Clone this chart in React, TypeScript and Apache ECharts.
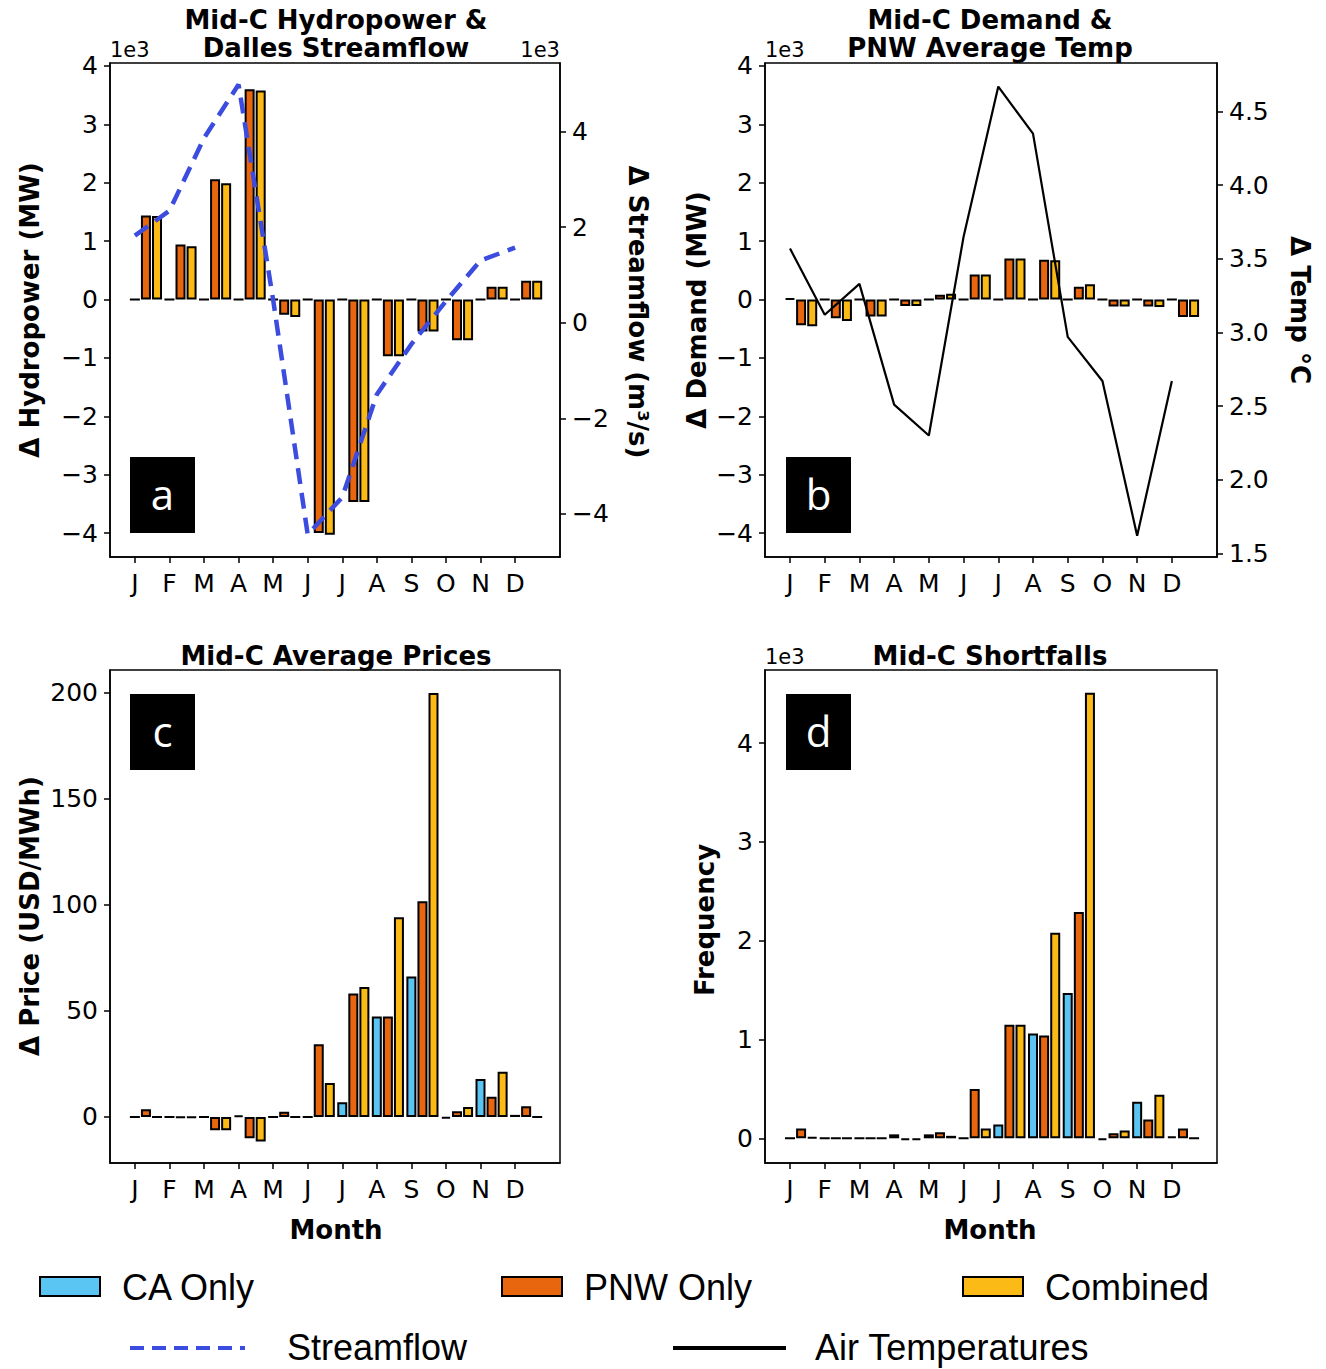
import React, { useEffect, useRef } from 'react';
import * as echarts from 'echarts';

// ---------- data ----------
const months = ['J', 'F', 'M', 'A', 'M', 'J', 'J', 'A', 'S', 'O', 'N', 'D'];

// Panel a: Δ Hydropower (x1e3 MW) and Δ Streamflow (x1e3 m3/s)
const hydroCA = [0, 0, 0, 0, 0, 0, 0, 0, 0, 0, 0, 0];
const hydroPNW = [1.44, 0.94, 2.06, 3.6, -0.26, -4.0, -3.47, -0.97, -0.55, -0.7, 0.22, 0.32];
const hydroComb = [1.43, 0.91, 1.99, 3.58, -0.3, -4.03, -3.47, -0.97, -0.55, -0.7, 0.22, 0.32];
const streamflow = [1.82, 2.34, 3.86, 4.98, 0.48, -4.43, -3.65, -1.5, -0.45, 0.45, 1.3, 1.57];

// Panel b: Δ Demand (x1e3 MW) and Δ Temp (°C)
const demandCA = [0.02, 0, 0, 0, 0, 0, 0, 0, 0, 0, 0, 0];
const demandPNW = [-0.44, -0.32, -0.29, -0.11, 0.08, 0.43, 0.7, 0.68, 0.22, -0.12, -0.12, -0.3];
const demandComb = [-0.46, -0.37, -0.29, -0.11, 0.1, 0.43, 0.7, 0.67, 0.26, -0.12, -0.13, -0.3];
const airTemp = [3.57, 3.12, 3.33, 2.51, 2.3, 3.65, 4.67, 4.35, 2.97, 2.67, 1.62, 2.67];

// Panel c: Δ Price (USD/MWh)
const priceCA = [0, 0, 0, 0.8, 0, 0, 6.9, 47.4, 66.3, -0.8, 17.9, 1.0];
const pricePNW = [3.7, -0.3, -6.2, -10, 2.5, 34.3, 58.2, 47.4, 101.8, 2.7, 9.5, 5.1];
const priceComb = [0, -0.3, -6.2, -11.6, 0, 16.0, 61.3, 94.2, 200, 4.7, 21.3, 0];

// Panel d: Shortfall frequency (x1e3)
const shortCA = [0, 0, 0, 0.04, 0.04, 0, 0.14, 1.06, 1.47, -0.02, 0.37, 0.02];
const shortPNW = [0.1, 0, 0, -0.02, 0.06, 0.5, 1.15, 1.04, 2.29, 0.05, 0.19, 0.1];
const shortComb = [0.01, 0, 0, -0.02, 0.025, 0.1, 1.15, 2.08, 4.51, 0.08, 0.44, 0];

// tick values
const hydroTicks = [-4, -3, -2, -1, 0, 1, 2, 3, 4];
const streamTicks = [-4, -2, 0, 2, 4];
const tempTicks = [1.5, 2.0, 2.5, 3.0, 3.5, 4.0, 4.5];
const priceTicks = [0, 50, 100, 150, 200];
const shortTicks = [0, 1, 2, 3, 4];

// ---------- styling ----------
const C_CA = '#5ac4f2';
const C_PNW = '#e8660e';
const C_COMB = '#fbba16';
const C_STREAM = '#3b4cdf';
const OFFSETS = [0, 0.32, 0.64];
const X_MIN = -0.72;
const X_MAX = 12.3;
const TICK_FONT = { fontFamily: 'DejaVu Sans', fontSize: 25, color: '#000' };
const BOLD = 'bold 26px "DejaVu Sans"';

const grids = [
  { left: 110, top: 63, width: 450, height: 494 },
  { left: 765, top: 63, width: 452, height: 494 },
  { left: 110, top: 670, width: 450, height: 493 },
  { left: 765, top: 670, width: 452, height: 493 },
];

const fmtMinus = (v: number, dec = 0) => {
  const s = dec ? Math.abs(v).toFixed(dec) : String(Math.abs(Math.round(v * 1000) / 1000));
  return v < 0 ? '\u2212' + s : s;
};

function xAxisFor(g: number) {
  const idx = months.map((_, i) => i);
  return {
    gridIndex: g,
    type: 'value',
    min: X_MIN,
    max: X_MAX,
    axisLine: { show: true, onZero: false, lineStyle: { color: '#000', width: 1.5 } },
    axisTick: { show: true, length: 6, customValues: idx, lineStyle: { color: '#000', width: 1.5 } },
    axisLabel: {
      show: true,
      customValues: idx,
      formatter: (v: number) => months[Math.round(v)] ?? '',
      ...TICK_FONT,
      margin: 14,
    },
    splitLine: { show: false },
  };
}

function yAxisFor(g: number, min: number, max: number, ticks: number[], pos: 'left' | 'right', dec = 0) {
  return {
    gridIndex: g,
    type: 'value',
    position: pos,
    min,
    max,
    axisLine: { show: true, onZero: false, lineStyle: { color: '#000', width: 1.5 } },
    axisTick: { show: true, length: 6, customValues: ticks, lineStyle: { color: '#000', width: 1.5 } },
    axisLabel: {
      show: true,
      customValues: ticks,
      formatter: (v: number) => fmtMinus(v, dec),
      ...TICK_FONT,
      margin: 12,
    },
    splitLine: { show: false },
  };
}

function barSeries(name: string, vals: number[], k: number, color: string, g: number, yIdx: number) {
  return {
    name,
    type: 'bar',
    xAxisIndex: g,
    yAxisIndex: yIdx,
    data: vals.map((v, i) => [i + OFFSETS[k], v]),
    barWidth: 10,
    barGap: '-100%',
    itemStyle: { color, borderColor: '#000', borderWidth: 2 },
    z: 2,
  };
}

function txt(text: string, x: number, y: number, font: string, align = 'center', rotation = 0, fill = '#000') {
  return {
    type: 'text',
    x,
    y,
    rotation,
    z: 10,
    style: { text, font, fill, textAlign: align, textVerticalAlign: 'middle' },
  };
}

function letterBox(letter: string, x: number, y: number) {
  return [
    { type: 'rect', shape: { x, y, width: 65, height: 76 }, style: { fill: '#000' }, z: 10 },
    txt(letter, x + 32.5, y + 36, '42px "Open Sans"', 'center', 0, '#fff'),
  ];
}

function legendSwatch(x: number, color: string, label: string) {
  return [
    { type: 'rect', shape: { x, y: 1277, width: 60, height: 19 }, style: { fill: color, stroke: '#000', lineWidth: 2 }, z: 10 },
    txt(label, x + 82, 1287, '36px "Liberation Sans"', 'left'),
  ];
}

export default function App() {
  const ref = useRef<HTMLDivElement>(null);
  useEffect(() => {
    if (!ref.current) return;
    const chart = echarts.init(ref.current, undefined, { renderer: 'svg' });
    const option = {
      animation: false,
      backgroundColor: '#fff',
      grid: grids.map((g) => ({ ...g, show: true, borderColor: '#000', borderWidth: 1.5, containLabel: false })),
      xAxis: [0, 1, 2, 3].map(xAxisFor),
      yAxis: [
        yAxisFor(0, -4.41, 4.05, hydroTicks, 'left'),
        yAxisFor(0, -4.9, 5.43, streamTicks, 'right'),
        yAxisFor(1, -4.41, 4.05, hydroTicks, 'left'),
        yAxisFor(1, 1.475, 4.83, tempTicks, 'right', 1),
        yAxisFor(2, -21.7, 210.8, priceTicks, 'left'),
        yAxisFor(3, -0.25, 4.74, shortTicks, 'left'),
      ],
      series: [
        barSeries('CA Only', hydroCA, 0, C_CA, 0, 0),
        barSeries('PNW Only', hydroPNW, 1, C_PNW, 0, 0),
        barSeries('Combined', hydroComb, 2, C_COMB, 0, 0),
        {
          name: 'Streamflow',
          type: 'line',
          xAxisIndex: 0,
          yAxisIndex: 1,
          data: streamflow.map((v, i) => [i, v]),
          symbol: 'none',
          lineStyle: { color: C_STREAM, width: 4.5, type: [16, 9] },
          z: 4,
        },
        barSeries('CA Only', demandCA, 0, C_CA, 1, 2),
        barSeries('PNW Only', demandPNW, 1, C_PNW, 1, 2),
        barSeries('Combined', demandComb, 2, C_COMB, 1, 2),
        {
          name: 'Air Temperatures',
          type: 'line',
          xAxisIndex: 1,
          yAxisIndex: 3,
          data: airTemp.map((v, i) => [i, v]),
          symbol: 'none',
          lineStyle: { color: '#000', width: 2.2 },
          z: 4,
        },
        barSeries('CA Only', priceCA, 0, C_CA, 2, 4),
        barSeries('PNW Only', pricePNW, 1, C_PNW, 2, 4),
        barSeries('Combined', priceComb, 2, C_COMB, 2, 4),
        barSeries('CA Only', shortCA, 0, C_CA, 3, 5),
        barSeries('PNW Only', shortPNW, 1, C_PNW, 3, 5),
        barSeries('Combined', shortComb, 2, C_COMB, 3, 5),
      ],
      graphic: [
        // titles
        txt('Mid-C Hydropower &', 336, 20, BOLD),
        txt('Dalles Streamflow', 336, 48, BOLD),
        txt('Mid-C Demand &', 990, 20, BOLD),
        txt('PNW Average Temp', 990, 48, BOLD),
        txt('Mid-C Average Prices', 336, 656, BOLD),
        txt('Mid-C Shortfalls', 990, 656, BOLD),
        // offset texts
        txt('1e3', 110, 50, '21px "DejaVu Sans"', 'left'),
        txt('1e3', 560, 50, '21px "DejaVu Sans"', 'right'),
        txt('1e3', 765, 50, '21px "DejaVu Sans"', 'left'),
        txt('1e3', 765, 657, '21px "DejaVu Sans"', 'left'),
        // axis names
        txt('\u0394 Hydropower (MW)', 30, 310, BOLD, 'center', Math.PI / 2),
        txt('\u0394 Streamflow (m\u00b3/s)', 638, 312, BOLD, 'center', -Math.PI / 2),
        txt('\u0394 Demand (MW)', 697, 310, BOLD, 'center', Math.PI / 2),
        txt('\u0394 Temp \u00b0C', 1300, 310, BOLD, 'center', -Math.PI / 2),
        txt('\u0394 Price (USD/MWh)', 30, 916, BOLD, 'center', Math.PI / 2),
        txt('Frequency', 705, 920, BOLD, 'center', Math.PI / 2),
        txt('Month', 336, 1230, BOLD),
        txt('Month', 990, 1230, BOLD),
        // panel letters
        ...letterBox('a', 130, 457),
        ...letterBox('b', 786, 457),
        ...letterBox('c', 130, 694),
        ...letterBox('d', 786, 694),
        // legend
        ...legendSwatch(40, C_CA, 'CA Only'),
        ...legendSwatch(502, C_PNW, 'PNW Only'),
        ...legendSwatch(963, C_COMB, 'Combined'),
        { type: 'line', shape: { x1: 130, y1: 1348, x2: 245, y2: 1348 }, style: { stroke: C_STREAM, lineWidth: 4, lineDash: [14, 8] }, z: 10 },
        txt('Streamflow', 287, 1347, '36px "Liberation Sans"', 'left'),
        { type: 'line', shape: { x1: 673, y1: 1348, x2: 786, y2: 1348 }, style: { stroke: '#000', lineWidth: 4 }, z: 10 },
        txt('Air Temperatures', 815, 1347, '36px "Liberation Sans"', 'left'),
      ],
    };
    chart.setOption(option as any);
    return () => chart.dispose();
  }, []);
  return (
    <div
      ref={ref}
      style={{ position: 'absolute', left: 0, top: 0, width: 1326, height: 1369, background: '#fff' }}
    />
  );
}
